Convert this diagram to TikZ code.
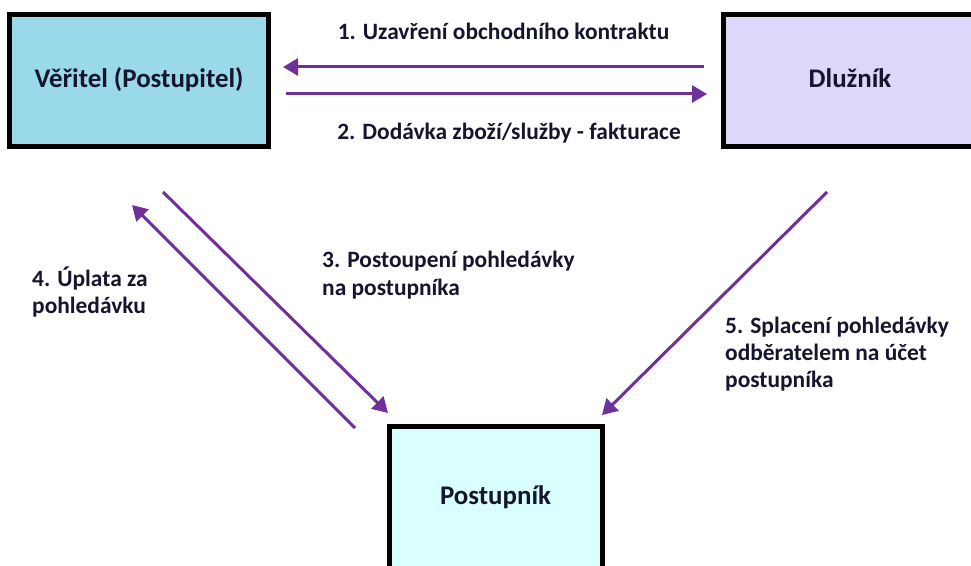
\documentclass[tikz,border=0pt]{standalone}
\usepackage{fontspec}
\setmainfont{Carlito}
\usetikzlibrary{arrows.meta}
\definecolor{arr}{HTML}{70309A}
\definecolor{txt}{HTML}{15152E}
\definecolor{fillA}{HTML}{99D9EA}
\definecolor{fillB}{HTML}{DCD8FA}
\definecolor{fillC}{HTML}{D9FFFF}
\tikzset{
  party/.style={draw=black, line width=5bp, inner sep=0pt, font=\fontsize{27}{30}\selectfont\bfseries, text=txt, text height=14bp, text depth=0bp},
  flow/.style={draw=arr, line width=3bp, -{Triangle[length=15bp,width=17bp]}},
  lbl/.style={font=\fontsize{23.5}{27}\selectfont\bfseries, text=txt, inner sep=0pt},
}
\begin{document}
\begin{tikzpicture}[x=1bp,y=-1bp]
\useasboundingbox (0,0) rectangle (971,566);
\fill[white] (0,0) rectangle (971,566);
% boxes
\node[party, fill=fillA, minimum width=258bp, minimum height=132bp] (ver) at (139,81) {Věřitel (Postupitel)};
\node[party, fill=fillB, minimum width=254bp, minimum height=132bp] (dl) at (850,81) {Dlužník};
\node[party, fill=fillC, minimum width=213bp, minimum height=142bp] (post) at (495.5,497) {Postupník};
% arrow end points
\coordinate (a1s) at (704,67);
\coordinate (a1e) at (283,67);
\coordinate (a2s) at (286,94);
\coordinate (a2e) at (707,94);
\coordinate (a3s) at (163,192);
\coordinate (a3e) at (388,413);
\coordinate (a4s) at (355,428);
\coordinate (a4e) at (132,205);
\coordinate (a5s) at (827,192);
\coordinate (a5e) at (602,415);
\draw[flow] (a1s) -- (a1e);
\draw[flow] (a2s) -- (a2e);
\draw[flow] (a3s) -- (a3e);
\draw[flow] (a4s) -- (a4e);
\draw[flow] (a5s) -- (a5e);
% labels
\node[lbl, anchor=base] (l1) at (503.5,40) {1. Uzavření obchodního kontraktu};
\node[lbl, anchor=base] (l2) at (509,140) {2. Dodávka zboží/služby - fakturace};
\node[lbl, anchor=base west] (l3a) at (322,268) {3. Postoupení pohledávky};
\node[lbl, anchor=base west] (l3b) at (322,295) {na postupníka};
\node[lbl, anchor=base west] (l4a) at (32,287) {4. Úplata za};
\node[lbl, anchor=base west] (l4b) at (32,313) {pohledávku};
\node[lbl, anchor=base west] (l5a) at (725,333) {5. Splacení pohledávky};
\node[lbl, anchor=base west] (l5b) at (725,360) {odběratelem na účet};
\node[lbl, anchor=base west] (l5c) at (725,387) {postupníka};
\end{tikzpicture}
\end{document}
